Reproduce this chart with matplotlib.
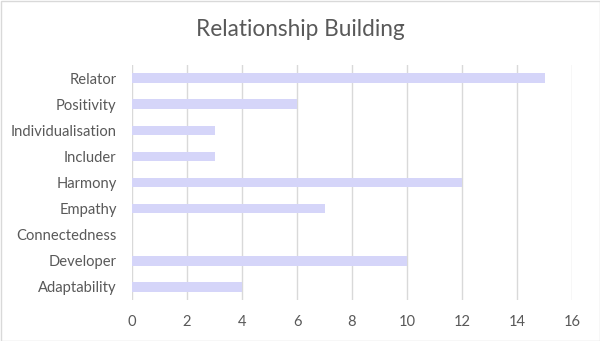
import matplotlib
matplotlib.use("Agg")
import matplotlib.pyplot as plt
from matplotlib.patches import Rectangle

categories = ["Adaptability", "Developer", "Connectedness", "Empathy", "Harmony",
              "Includer", "Individualisation", "Positivity", "Relator"]
values = [4, 10, 0, 7, 12, 3, 3, 6, 15]
xticks = [0, 2, 4, 6, 8, 10, 12, 14, 16]
title = "Relationship Building"

plt.rcParams['font.family'] = ['Lato', 'DejaVu Sans']
text_color = "#595959"

fig = plt.figure(figsize=(6.0, 3.41), dpi=100)
ax = fig.add_axes([132/600, 1 - 300/341, (572-132)/600, (300-65)/341])

ax.barh(range(len(categories)), values, height=0.36, color="#D5D5F9", zorder=3)
ax.set_xlim(0, 16)
ax.set_ylim(-0.5, len(categories) - 0.5)
ax.set_xticks(xticks)
ax.set_xticklabels([str(t) for t in xticks])
ax.set_yticks(range(len(categories)))
ax.set_yticklabels(categories)
ax.tick_params(axis='both', length=0, colors=text_color, labelsize=10.6)
ax.tick_params(axis='x', pad=11)
ax.tick_params(axis='y', pad=11)
ax.xaxis.grid(True, color="#D9D9D9", linewidth=1, zorder=0)
for s in ax.spines.values():
    s.set_visible(False)

fig.text(0.5, 1 - 29/341, title, ha='center', va='center', fontsize=16.3, color=text_color)

# outer chart border
fig.patches.append(Rectangle((0.5/600, 0.5/341), 1 - 1/600, 1 - 1/341, transform=fig.transFigure,
                             fill=False, edgecolor="#D9D9D9", linewidth=1))

fig.savefig("out.png", dpi=100)
